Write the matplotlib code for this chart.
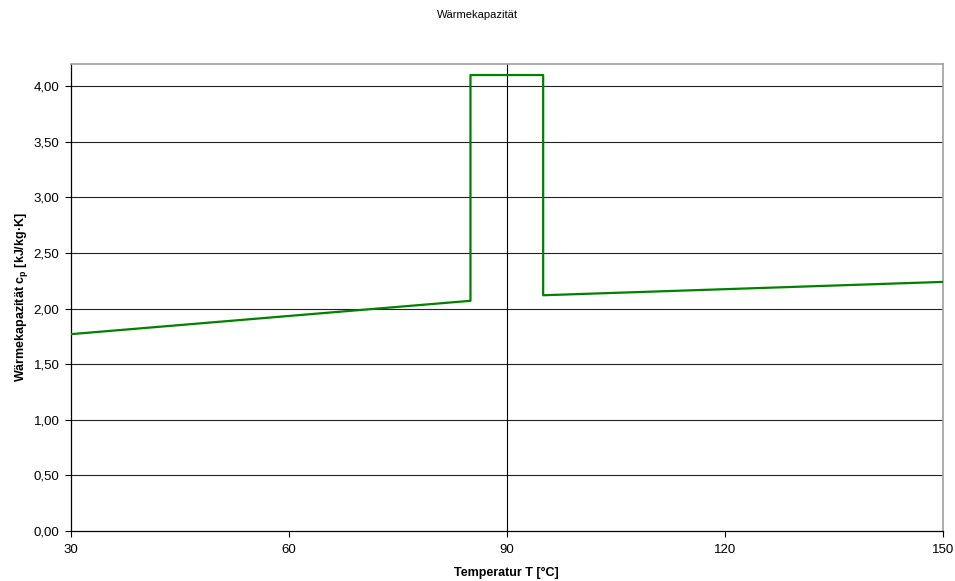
import matplotlib
matplotlib.use("Agg")
import matplotlib.pyplot as plt
from matplotlib.ticker import FuncFormatter

plt.rcParams['font.family'] = ['Liberation Sans', 'DejaVu Sans']
plt.rcParams['mathtext.fontset'] = 'custom'
plt.rcParams['mathtext.bf'] = 'Liberation Sans:bold'
plt.rcParams['mathtext.rm'] = 'Liberation Sans'

# Data
temps = [30, 85, 85, 95, 95, 150]
cp = [1.77, 2.07, 4.10, 4.10, 2.12, 2.24]
x_ticks = [30, 60, 90, 120, 150]
y_ticks = [0.0, 0.5, 1.0, 1.5, 2.0, 2.5, 3.0, 3.5, 4.0]

fig = plt.figure(figsize=(9.55, 5.81), dpi=100)
ax = fig.add_axes([0.074, 0.086, 0.9134, 0.804])

for yv in y_ticks[1:]:
    ax.axhline(yv, color='#222222', linewidth=0.8, zorder=1)
ax.axvline(90, color='black', linewidth=0.8, zorder=1)

ax.plot(temps, cp, color='#008000', linewidth=1.6, zorder=3)

ax.set_xlim(30, 150)
ax.set_ylim(0, 4.2)
ax.set_xticks(x_ticks)
ax.set_yticks(y_ticks)
ax.yaxis.set_major_formatter(FuncFormatter(lambda v, p: f"{v:.2f}".replace('.', ',')))
ax.tick_params(axis='both', labelsize=9.5, length=4, width=0.8, direction='out', color='black')
ax.tick_params(axis='x', pad=5)
ax.tick_params(axis='y', pad=4)

for s in ['left', 'bottom']:
    ax.spines[s].set_color('black')
    ax.spines[s].set_linewidth(0.9)
for s in ['top', 'right']:
    ax.spines[s].set_color('#a0a0a0')
    ax.spines[s].set_linewidth(1.2)

ax.set_xlabel('Temperatur T [°C]', fontsize=9, fontweight='bold', labelpad=8)
ax.set_ylabel('Wärmekapazität c$_\\mathbf{p}$ [kJ/kg·K]', fontsize=9, fontweight='bold', labelpad=3)
fig.suptitle('Wärmekapazität', fontsize=8, y=0.983)

fig.savefig('out.png', dpi=100)
